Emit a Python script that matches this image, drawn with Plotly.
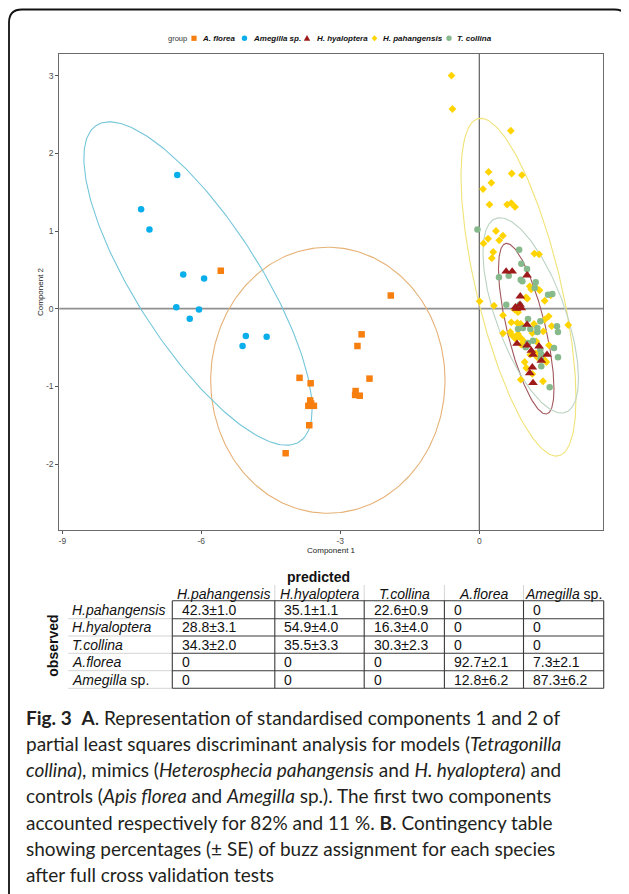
import numpy as np
import plotly.graph_objects as go

# page is shown with an 8px body margin, so the figure is drawn 8px in and
# all layout positions below are given in page pixels and shifted by OFF
OFF = 8
W, H = 621, 886

# ---------------- data ----------------
groups = ["A. florea", "Amegilla sp.", "H. hyaloptera", "H. pahangensis", "T. collina"]

florea_x = [-5.58, -1.91, -2.54, -2.63, -2.37, -2.67, -2.68, -2.58, -3.88, -3.64,
            -3.65, -3.69, -3.57, -3.63, -3.67, -4.18]
florea_y = [0.49, 0.17, -0.33, -0.48, -0.90, -1.06, -1.11, -1.12, -0.89, -0.96,
            -1.18, -1.25, -1.25, -1.22, -1.50, -1.86]

amegilla_x = [-6.52, -7.30, -7.12, -6.39, -5.94, -6.54, -6.25, -6.05, -5.04, -5.11, -4.59]
amegilla_y = [1.72, 1.28, 1.02, 0.44, 0.39, 0.02, -0.13, -0.01, -0.35, -0.48, -0.36]

hyalo_x = [0.58, 0.71, 1.03, 0.885, 0.878, 0.80, 0.907, 0.78, 1.03, 0.814, 1.03, 1.289,
           1.123, 1.159, 1.461, 1.338, 1.144, 1.088, 1.159]
hyalo_y = [0.48, 0.48, 0.43, 0.16, 0.052, 0.0, 0.009, 0.02, -0.206, -0.45, -0.471, -0.484,
           -0.54, -0.592, -0.592, -0.669, -0.754, -0.828, -0.956]

pahang_x = [-0.60, -0.58, 0.68, 0.20, 0.70, 0.92, 0.26, 0.08, 0.22, 0.60, 0.69, 0.77,
            0.36, 0.19, 0.09, 0.43, 0.51, 0.30, 0.27, 1.19, 1.29,
            1.217, 1.008, 0.008, 0.317, 1.088, 1.12, 1.30, 1.036, 1.411, 1.541,
            0.764, 0.835, 0.512, 1.498, 1.411, 0.691, 0.82, 0.894, 1.181, 1.562,
            1.92, 0.669, 0.512, 0.706, 0.835, 0.894, 1.144, 1.381, 0.965, 0.785,
            0.907, 1.23, 1.504, 1.101, 1.252, 1.39, 1.447, 0.98, 1.015, 1.144,
            0.894, 1.375, 1.224]
pahang_y = [3.00, 2.57, 2.29, 1.76, 1.74, 1.72, 1.62, 1.54, 1.34, 1.34, 1.36, 1.31,
            1.00, 0.90, 0.84, 0.88, 0.94, 0.73, 0.65, 0.71, 0.70,
            0.275, 0.147, 0.095, 0.039, 0.288, 0.25, 0.236, 0.129, 0.102, 0.172,
            -0.013, -0.045, -0.085, -0.098, -0.142, -0.175, -0.184, -0.197, -0.197, -0.223,
            -0.21, -0.30, -0.317, -0.343, -0.326, -0.377, -0.313, -0.292, -0.42, -0.39,
            -0.463, -0.42, -0.471, -0.592, -0.626, -0.647, -0.686, -0.686, -0.763, -0.84,
            -0.913, -0.934, -0.574]

collina_x = [-0.04, 0.86, 0.907, 1.03, 0.425, 0.635, 0.894, 0.929, 1.217, 1.196, 1.483,
             1.576, 0.583, 0.87, 1.051, 1.317, 0.835, 0.943, 1.101, 1.252, 1.252,
             1.677, 1.698, 1.159, 1.051, 1.001, 1.317, 1.338, 1.612, 1.698, 1.338,
             1.519, 1.325]
collina_y = [1.02, 0.76, 0.579, 0.511, 0.404, 0.425, 0.373, 0.353, 0.340, 0.266, 0.180,
             0.189, 0.052, 0.05, -0.133, -0.163, -0.261, -0.248, -0.261, -0.248, -0.30,
             -0.227, -0.30, -0.412, -0.441, -0.497, -0.527, -0.59, -0.506, -0.626, -0.741,
             -1.012, -0.638]

# ellipse parameters per group (centre, half extents, correlation)
ell_cx = [-3.269, -6.072, 1.013, 0.846, 1.110]
ell_cy = [-0.921, 0.324, -0.257, 0.277, -0.086]
ell_rx = [2.529, 2.463, 0.599, 1.241, 1.031]
ell_ry = [1.712, 2.081, 1.098, 2.174, 1.257]
ell_rho = [0.0, -0.776, -0.705, -0.657, -0.644]

x_ticks = [-9, -6, -3, 0]
y_ticks = [-2, -1, 0, 1, 2, 3]

# contingency table
table_cols = ["H.pahangensis", "H.hyaloptera", "T.collina", "A.florea", "Amegilla sp."]
table_rows = ["H.pahangensis", "H.hyaloptera", "T.collina", "A.florea", "Amegilla sp."]
row_pahang = ["42.3±1.0", "35.1±1.1", "22.6±0.9", "0", "0"]
row_hyalo = ["28.8±3.1", "54.9±4.0", "16.3±4.0", "0", "0"]
row_collina = ["34.3±2.0", "35.5±3.3", "30.3±2.3", "0", "0"]
row_florea = ["0", "0", "0", "92.7±2.1", "7.3±2.1"]
row_amegilla = ["0", "0", "0", "12.8±6.2", "87.3±6.2"]
table_values = [row_pahang, row_hyalo, row_collina, row_florea, row_amegilla]

caption_lines = [
    "<b>Fig. 3</b>\u00a0\u00a0<b>A</b>. Representation of standardised components 1 and 2 of",
    "partial least squares discriminant analysis for models (<i>Tetragonilla</i>",
    "<i>collina</i>), mimics (<i>Heterosphecia pahangensis</i> and <i>H. hyaloptera</i>) and",
    "controls (<i>Apis florea</i> and <i>Amegilla</i> sp.). The first two components",
    "accounted respectively for 82% and 11 %. <b>B</b>. Contingency table",
    "showing percentages (± SE) of buzz assignment for each species",
    "after full cross validation tests",
]

# ---------------- styles ----------------
colors = ["#F77F0F", "#0AAEEA", "#9E1A1A", "#FFD400", "#86B98C"]
ell_colors = ["#E6B177", "#74C6D9", "#A1585C", "#F1E377", "#BBD3C2"]
symbols = ["square", "circle", "triangle-up", "diamond", "circle"]
sizes = [6.5, 6.5, 8.5, 6, 6.5]
AX = "Liberation Sans, Arial, sans-serif"
CAP = "Lato, Noto Sans, sans-serif"


def fx(p):
    return (p - OFF) / W


def fy(p):
    return 1 - (p - OFF) / H


fig = go.Figure()

# ellipses
t = np.linspace(0, 2 * np.pi, 241)
for i in range(5):
    ex = ell_cx[i] + ell_rx[i] * np.cos(t)
    ey = ell_cy[i] + ell_ry[i] * (ell_rho[i] * np.cos(t) + np.sqrt(1 - ell_rho[i] ** 2) * np.sin(t))
    fig.add_trace(go.Scatter(x=ex, y=ey, mode="lines", line=dict(color=ell_colors[i], width=1.1),
                             showlegend=False, hoverinfo="skip"))

series = [(florea_x, florea_y), (amegilla_x, amegilla_y), (hyalo_x, hyalo_y),
          (pahang_x, pahang_y), (collina_x, collina_y)]
for i in [0, 1, 3, 4, 2]:
    sx, sy = series[i]
    fig.add_trace(go.Scatter(x=sx, y=sy, mode="markers", name=groups[i],
                             marker=dict(symbol=symbols[i], color=colors[i], size=sizes[i],
                                         line=dict(width=0)),
                             showlegend=False))

# plot geometry in page pixels
PL, PR, PT, PB = 59.3, 603.3, 54, 530
X0PX, XSC = 479.3, 46.33
Y0PX, YSC = 308.7, 77.7

shapes = []
# zero lines
shapes.append(dict(type="line", xref="x", yref="y domain", x0=0, x1=0, y0=0, y1=1,
                   line=dict(color="#5f5f5f", width=1.2), layer="below"))
shapes.append(dict(type="line", xref="x domain", yref="y", x0=0, x1=1, y0=0, y1=0,
                   line=dict(color="#8f8f8f", width=1.8), layer="below"))

annotations = []

# ---- manual legend ----
LY = 38.3
annotations.append(dict(x=fx(188.5), y=fy(LY), xref="paper", yref="paper", text="group",
                        showarrow=False, font=dict(family=AX, size=7.5, color="#333333"),
                        xanchor="right", yanchor="middle"))
sym_x = [194.0, 244.5, 307.0, 374.5, 449.0]
lab_x = [199.5, 251.0, 314.5, 380.5, 455.0]
for i in range(5):
    cx, cy = sym_x[i], LY
    if symbols[i] == "square":
        shapes.append(dict(type="rect", xref="paper", yref="paper", x0=fx(cx - 2.6), x1=fx(cx + 2.6),
                           y0=fy(cy + 2.6), y1=fy(cy - 2.6), fillcolor=colors[i], line=dict(width=0)))
    elif symbols[i] == "circle":
        shapes.append(dict(type="circle", xref="paper", yref="paper", x0=fx(cx - 2.7), x1=fx(cx + 2.7),
                           y0=fy(cy + 2.7), y1=fy(cy - 2.7), fillcolor=colors[i], line=dict(width=0)))
    elif symbols[i] == "triangle-up":
        path = "M %f %f L %f %f L %f %f Z" % (fx(cx), fy(cy - 3.2), fx(cx - 3.2), fy(cy + 2.5),
                                              fx(cx + 3.2), fy(cy + 2.5))
        shapes.append(dict(type="path", xref="paper", yref="paper", path=path,
                           fillcolor=colors[i], line=dict(width=0)))
    else:
        path = "M %f %f L %f %f L %f %f L %f %f Z" % (fx(cx), fy(cy - 3.0), fx(cx + 2.8), fy(cy),
                                                      fx(cx), fy(cy + 3.0), fx(cx - 2.8), fy(cy))
        shapes.append(dict(type="path", xref="paper", yref="paper", path=path,
                           fillcolor=colors[i], line=dict(width=0)))
    annotations.append(dict(x=fx(lab_x[i]), y=fy(LY), xref="paper", yref="paper",
                            text="<b><i>%s</i></b>" % groups[i], showarrow=False,
                            font=dict(family=AX, size=8, color="#111111"),
                            xanchor="left", yanchor="middle"))

# axis titles
annotations.append(dict(x=fx((PL + PR) / 2), y=fy(550.5), xref="paper", yref="paper",
                        text="Component 1", showarrow=False, font=dict(family=AX, size=8, color="#222222"),
                        xanchor="center", yanchor="middle"))
annotations.append(dict(x=fx(40), y=fy((PT + PB) / 2), xref="paper", yref="paper",
                        text="Component 2", showarrow=False, textangle=-90,
                        font=dict(family=AX, size=8, color="#222222"),
                        xanchor="center", yanchor="middle"))

# ---- contingency table ----
col_edges = [172.3, 274.8, 364.2, 444.4, 523.5, 603.7]
row_edges = [600.7, 618.7, 636.0, 653.3, 670.7, 688.3]
LBL_L = 68.3
TF = 14

annotations.append(dict(x=fx(318), y=fy(577), xref="paper", yref="paper", text="<b>predicted</b>",
                        showarrow=False, font=dict(family=AX, size=TF, color="#111111"),
                        xanchor="center", yanchor="middle"))
annotations.append(dict(x=fx(52.7), y=fy(646), xref="paper", yref="paper", text="<b>observed</b>",
                        showarrow=False, textangle=-90, font=dict(family=AX, size=TF, color="#111111"),
                        xanchor="center", yanchor="middle"))


def ital(name):
    if name.endswith(" sp."):
        return "<i>%s</i> sp." % name[:-4]
    return "<i>%s</i>" % name


for j, name in enumerate(table_cols):
    annotations.append(dict(x=fx((col_edges[j] + col_edges[j + 1]) / 2), y=fy(593.5), xref="paper",
                            yref="paper", text=ital(name), showarrow=False,
                            font=dict(family=AX, size=TF, color="#111111"),
                            xanchor="center", yanchor="middle"))
    if j > 0:
        shapes.append(dict(type="line", xref="paper", yref="paper", x0=fx(col_edges[j]), x1=fx(col_edges[j]),
                           y0=fy(585), y1=fy(row_edges[0]), line=dict(color="#d4d4d4", width=1)))

for i, name in enumerate(table_rows):
    yc = (row_edges[i] + row_edges[i + 1]) / 2
    annotations.append(dict(x=fx(69.5), y=fy(yc), xref="paper", yref="paper", text=ital(name),
                            showarrow=False, font=dict(family=AX, size=TF, color="#111111"),
                            xanchor="left", yanchor="middle"))
    for j in range(5):
        annotations.append(dict(x=fx(col_edges[j] + 7.5), y=fy(yc), xref="paper", yref="paper",
                                text=table_values[i][j], showarrow=False,
                                font=dict(family=AX, size=TF, color="#111111"),
                                xanchor="left", yanchor="middle"))
    shapes.append(dict(type="line", xref="paper", yref="paper", x0=fx(LBL_L), x1=fx(col_edges[0]),
                       y0=fy(row_edges[i + 1]), y1=fy(row_edges[i + 1]),
                       line=dict(color="#d4d4d4", width=1)))

for r in row_edges:
    shapes.append(dict(type="line", xref="paper", yref="paper", x0=fx(col_edges[0]), x1=fx(col_edges[-1]),
                       y0=fy(r), y1=fy(r), line=dict(color="#3a3a3a", width=1.1)))
for c in col_edges:
    shapes.append(dict(type="line", xref="paper", yref="paper", x0=fx(c), x1=fx(c),
                       y0=fy(row_edges[0]), y1=fy(row_edges[-1]), line=dict(color="#3a3a3a", width=1.1)))

# ---- caption ----
cap_y = [717, 743.3, 769.6, 795.9, 822.2, 848.5, 874.8]
for k, line in enumerate(caption_lines):
    annotations.append(dict(x=fx(24), y=fy(cap_y[k]), xref="paper", yref="paper", text=line,
                            showarrow=False, font=dict(family=CAP, size=19, color="#231f20"),
                            xanchor="left", yanchor="middle"))

# ---- outer rounded frame ----
r = 13
L, R, T, B = 9.0, 627.5, 9.5, 920
frame = ("M %f %f L %f %f Q %f %f %f %f L %f %f Q %f %f %f %f L %f %f" %
         (fx(L), fy(B), fx(L), fy(T + r), fx(L), fy(T), fx(L + r), fy(T),
          fx(R - r), fy(T), fx(R), fy(T), fx(R), fy(T + r), fx(R), fy(B)))
shapes.append(dict(type="path", xref="paper", yref="paper", path=frame,
                   line=dict(color="#111111", width=1.8)))

fig.update_layout(
    width=W, height=H, margin=dict(l=0, r=0, t=0, b=0),
    paper_bgcolor="white", plot_bgcolor="white",
    showlegend=False, shapes=shapes, annotations=annotations,
    xaxis=dict(domain=[fx(PL), fx(PR)], range=[(PL - X0PX) / XSC, (PR - X0PX) / XSC],
               tickvals=x_ticks, ticktext=[str(v) for v in x_ticks], ticks="outside", ticklen=3,
               tickcolor="#555555", tickfont=dict(family=AX, size=8.5, color="#4d4d4d"),
               showline=True, mirror=True, linecolor="#6b6b6b", linewidth=1,
               showgrid=False, zeroline=False),
    yaxis=dict(domain=[fy(PB), fy(PT)], range=[(Y0PX - PB) / YSC, (Y0PX - PT) / YSC],
               tickvals=y_ticks, ticktext=[str(v) for v in y_ticks], ticks="outside", ticklen=3,
               tickcolor="#555555", tickfont=dict(family=AX, size=8.5, color="#4d4d4d"),
               showline=True, mirror=True, linecolor="#6b6b6b", linewidth=1,
               showgrid=False, zeroline=False),
)

fig.write_html("out.html")
